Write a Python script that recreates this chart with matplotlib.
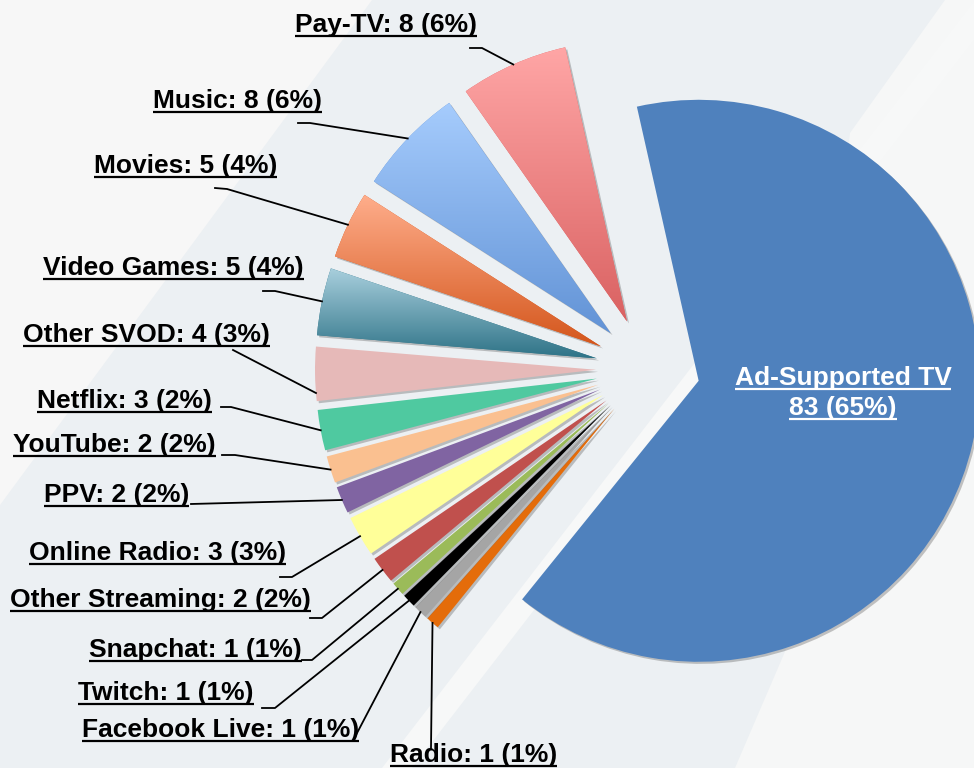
import matplotlib
matplotlib.use('Agg')
import matplotlib.pyplot as plt
import matplotlib.patheffects as pe
from matplotlib.patches import Polygon
from matplotlib.colors import to_rgb
import numpy as np

# ----------------------------------------------------------------
# Data (clockwise from the big slice)
# ----------------------------------------------------------------
categories = ['Ad-Supported TV', 'Radio', 'Facebook Live', 'Twitch', 'Snapchat',
              'Other Streaming', 'Online Radio', 'PPV', 'YouTube', 'Netflix',
              'Other SVOD', 'Video Games', 'Movies', 'Music', 'Pay-TV']
values = [83, 1, 1, 1, 1, 2, 3, 2, 2, 3, 4, 5, 5, 8, 8]
percents = [65, 1, 1, 1, 1, 2, 3, 2, 2, 2, 3, 4, 4, 6, 6]

# top / bottom colours (same value = flat fill)
colors_top = ['#4F81BD', '#E46C0A', '#A5A5A5', '#000000', '#9BBB59',
              '#C0504D', '#FFFF99', '#8064A2', '#FAC090', '#4FC9A0',
              '#E6B9B8', '#AAD0DE', '#FFAE8C', '#A6CCFD', '#FFA6A6']
colors_bottom = ['#4F81BD', '#E46C0A', '#A5A5A5', '#000000', '#9BBB59',
                 '#C0504D', '#FFFF99', '#8064A2', '#FAC090', '#4FC9A0',
                 '#E6B9B8', '#2E7387', '#D4561C', '#6293D6', '#DA6262']

# ----------------------------------------------------------------
# Layout (pixel coords, y measured from the top)
# ----------------------------------------------------------------
W, H = 974, 768
CENTER = (648, 369)
RADIUS = 281
EXPLODE = 52          # pie() offsets wedges in data units (= pixels here)
START = 102.7

# left x, baseline y of each outside label
label_pos = {
    'Pay-TV': (295, 32),
    'Music': (153, 108),
    'Movies': (94, 173),
    'Video Games': (43, 275),
    'Other SVOD': (23, 342),
    'Netflix': (37, 408),
    'YouTube': (13, 452),
    'PPV': (44, 502),
    'Online Radio': (29, 560),
    'Other Streaming': (10, 607),
    'Snapchat': (89, 657),
    'Twitch': (78, 700),
    'Facebook Live': (82, 737),
    'Radio': (390, 762),
}
# leader line points before reaching the slice
leader_knees = {
    'Pay-TV': [(470, 48), (482, 48)],
    'Music': [(298, 123), (310, 123)],
    'Movies': [(215, 188), (227, 189)],
    'Video Games': [(263, 291), (275, 291)],
    'Other SVOD': [(233, 350)],
    'Netflix': [(221, 407), (231, 407)],
    'YouTube': [(222, 455), (235, 455)],
    'PPV': [(191, 504)],
    'Online Radio': [(280, 577), (292, 577)],
    'Other Streaming': [(310, 618), (322, 618)],
    'Snapchat': [(302, 660), (312, 660)],
    'Twitch': [(262, 708), (275, 708)],
    'Facebook Live': [(356, 735)],
    'Radio': [(431, 748)],
}
anchor_frac = {'Other SVOD': 0.85}


def py(y):
    """top-based pixel y -> data y"""
    return H - y


fig = plt.figure(figsize=(W / 100, H / 100), dpi=100)
fig.patch.set_facecolor('#ECF0F3')
ax = fig.add_axes([0, 0, 1, 1])

# ----------------------------------------------------------------
# Background shapes
# ----------------------------------------------------------------
ax.add_patch(Polygon([(0, py(0)), (372, py(0)), (0, py(505))],
                     closed=True, facecolor='#F7F7F7', edgecolor='none', zorder=0))
ax.add_patch(Polygon([(945, py(0)), (974, py(0)), (974, py(768)), (735, py(768)),
                      (790, py(640)), (850, py(133))],
                     closed=True, facecolor='#F6F7F7', edgecolor='none', zorder=0))
ax.add_patch(Polygon([(975, py(0)), (1005, py(0)), (412, py(768)), (382, py(768))],
                     closed=True, facecolor='#F7F8F8', edgecolor='none', zorder=0))

# ----------------------------------------------------------------
# Pie
# ----------------------------------------------------------------
wedges, _ = ax.pie(values, startangle=START, counterclock=False,
                   explode=[EXPLODE] * len(values),
                   center=(CENTER[0], py(CENTER[1])), radius=RADIUS,
                   colors=colors_bottom, wedgeprops=dict(linewidth=0))

shadow = [pe.SimplePatchShadow(offset=(1.5, -1.5), shadow_rgbFace=(0.35, 0.35, 0.35),
                               alpha=0.35), pe.Normal()]
grad = np.linspace(0, 1, 256)[:, None, None]
for w, ct, cb in zip(wedges, colors_top, colors_bottom):
    w.set_zorder(2)
    w.set_path_effects(shadow)
    if ct != cb:
        ext = w.get_path().get_extents()
        img = np.array(to_rgb(ct)) * (1 - grad) + np.array(to_rgb(cb)) * grad
        im = ax.imshow(img, extent=(ext.x0, ext.x1, ext.y0, ext.y1), origin='upper',
                       aspect='auto', interpolation='bilinear', zorder=2.1)
        im.set_clip_path(w)

ax.set_xlim(0, W)
ax.set_ylim(0, H)
ax.set_aspect('auto')
ax.axis('off')

# ----------------------------------------------------------------
# Labels
# ----------------------------------------------------------------
FONT = dict(family='Liberation Sans', weight='bold', size=19)
renderer = fig.canvas.get_renderer()


def underlined(x, y, s, color, ha='left'):
    t = ax.text(x, py(y), s, color=color, ha=ha, va='baseline', zorder=5, **FONT)
    bb = t.get_window_extent(renderer)
    ax.plot([bb.x0, bb.x1], [py(y + 4), py(y + 4)], color=color, lw=1.6,
            solid_capstyle='butt', zorder=5)


for i, (cat, val, pct) in enumerate(zip(categories, values, percents)):
    if i == 0:
        underlined(843, 385, cat, 'white', ha='center')
        underlined(843, 415, f"{val} ({pct}%)", 'white', ha='center')
        continue
    x, y = label_pos[cat]
    underlined(x, y, f"{cat}: {val} ({pct}%)", 'black')

    w = wedges[i]
    f = anchor_frac.get(cat, 0.5)
    th = np.deg2rad(w.theta1 + f * (w.theta2 - w.theta1))
    ax_, ay_ = w.center[0] + w.r * np.cos(th), w.center[1] + w.r * np.sin(th)
    pts = [(px, py(pyy)) for px, pyy in leader_knees[cat]] + [(ax_, ay_)]
    xs, ys = zip(*pts)
    ax.plot(xs, ys, color='black', lw=1.3, zorder=4)

fig.savefig('out.png', dpi=100, facecolor=fig.get_facecolor())
